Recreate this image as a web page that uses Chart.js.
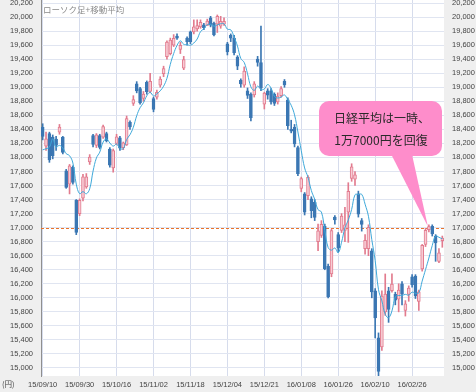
<!DOCTYPE html>
<html>
<head>
<meta charset="utf-8">
<script src="https://cdn.jsdelivr.net/npm/chart.js@4.4.1/dist/chart.umd.min.js"></script>
<style>
  html, body { margin: 0; padding: 0; background: #fff; }
</style>
</head>
<body>
<canvas id="myChart" width="476" height="392"></canvas>
<script>
'use strict';

const dates = [
  '15/09/10','15/09/11','15/09/14','15/09/15','15/09/16','15/09/17','15/09/18','15/09/24','15/09/25','15/09/28',
  '15/09/29','15/09/30','15/10/01','15/10/02','15/10/05','15/10/06','15/10/07','15/10/08','15/10/09','15/10/13',
  '15/10/14','15/10/15','15/10/16','15/10/19','15/10/20','15/10/21','15/10/22','15/10/23','15/10/26','15/10/27',
  '15/10/28','15/10/29','15/10/30','15/11/02','15/11/04','15/11/05','15/11/06','15/11/09','15/11/10','15/11/11',
  '15/11/12','15/11/13','15/11/16','15/11/17','15/11/18','15/11/19','15/11/20','15/11/24','15/11/25','15/11/26',
  '15/11/27','15/11/30','15/12/01','15/12/02','15/12/03','15/12/04','15/12/07','15/12/08','15/12/09','15/12/10',
  '15/12/11','15/12/14','15/12/15','15/12/16','15/12/17','15/12/18','15/12/21','15/12/22','15/12/24','15/12/25',
  '15/12/28','15/12/29','15/12/30','16/01/04','16/01/05','16/01/06','16/01/07','16/01/08','16/01/12','16/01/13',
  '16/01/14','16/01/15','16/01/18','16/01/19','16/01/20','16/01/21','16/01/22','16/01/25','16/01/26','16/01/27',
  '16/01/28','16/01/29','16/02/01','16/02/02','16/02/03','16/02/04','16/02/05','16/02/08','16/02/09','16/02/10',
  '16/02/12','16/02/15','16/02/16','16/02/17','16/02/18','16/02/19','16/02/22','16/02/23','16/02/24','16/02/25',
  '16/02/26','16/02/29','16/03/01','16/03/02','16/03/03','16/03/04','16/03/07','16/03/08','16/03/09','16/03/10'
];

const opens = [
  18430,18160,18340,18290,18260,18360,18290,17810,17620,17860,
  17390,17200,17420,17580,17935,18310,18170,18310,18290,18340,
  18120,17850,18200,18280,18140,18180,18500,18770,19050,18980,
  18840,19070,18940,18840,18860,19030,19195,19435,19480,19600,
  19730,19540,19270,19700,19790,19790,19830,19860,19890,19880,
  19990,19910,19900,19870,19900,19620,19740,19700,19430,19100,
  19030,18950,18900,18890,19400,19350,18760,18950,18950,18900,
  18790,18880,19085,18820,18400,18430,18140,17560,17480,17455,
  17410,17360,16800,16890,17020,16450,16340,17150,16900,16960,
  16960,17220,17700,17690,17480,17100,16700,16700,16670,16100,
  15430,15300,15800,16100,16100,16050,15980,16200,15820,16050,
  16300,16310,15950,16410,16760,16970,17020,16880,16520,16815
];

const highs = [
  18480,18360,18360,18320,18300,18470,18300,17830,17900,17880,
  17400,17410,17760,17770,18040,18330,18340,18330,18460,18360,
  18140,18120,18330,18300,18220,18590,18520,18880,19080,19000,
  18940,19090,19200,18860,18960,19150,19300,19660,19700,19750,
  19760,19640,19440,19720,19800,19960,19960,19960,19910,19970,
  20010,19930,20030,20010,19990,19640,19760,19740,19450,19120,
  19290,18990,18920,19080,19440,19870,18930,18980,18980,18920,
  18920,19010,19110,18850,18530,18470,18160,17720,17500,17740,
  17440,17400,17050,17100,17050,16480,16980,17170,16930,17200,
  17290,17640,17910,17800,17520,17130,16900,17040,16700,16130,
  15500,16100,16340,16150,16340,16080,16200,16230,15960,16170,
  16330,16330,16110,16760,16990,17040,17040,16900,16700,16880
];

const lows = [
  18250,18100,17930,17980,18100,18330,18050,17560,17480,17620,
  16900,17170,17380,17560,17900,18150,18140,18120,18270,18220,
  17860,17790,18180,18100,18110,18170,18400,18740,18920,18760,
  18800,18900,18920,18650,18830,19000,19150,19400,19460,19580,
  19680,19480,19250,19600,19620,19760,19800,19840,19820,19880,
  19860,19730,19780,19840,19880,19460,19650,19460,19250,19000,
  19000,18840,18520,18860,19300,18950,18690,18830,18760,18740,
  18760,18860,19000,18400,18350,18150,17740,17510,17180,17400,
  17140,17100,16670,16860,16400,16000,16300,17050,16650,16930,
  16800,16790,17660,17600,17150,16950,16620,16600,16000,15430,
  14865,15250,15750,15650,16080,15900,15800,15900,15740,15950,
  16150,15990,15820,16380,16730,16940,16880,16520,16500,16720
];

const closes = [
  18300,18264,17966,18026,18172,18432,18070,17572,17881,17645,
  16931,17388,17722,17725,18005,18186,18323,18141,18439,18235,
  17891,18097,18292,18131,18207,18554,18436,18825,18947,18777,
  18903,18936,19083,18683,18927,19116,19266,19643,19671,19698,
  19698,19597,19394,19649,19650,19860,19880,19925,19848,19944,
  19884,19747,20012,19938,19940,19504,19698,19493,19301,19047,
  19230,18883,18566,19050,19354,18987,18916,18887,18790,18769,
  18873,18982,19034,18451,18374,18191,17767,17698,17219,17716,
  17241,17147,16956,17048,16416,16017,16959,17111,16709,17164,
  17041,17518,17865,17751,17191,17045,16820,17004,16085,15713,
  14953,16023,16054,15836,16197,15967,16111,16052,15916,16140,
  16188,16027,16086,16747,16960,17015,16911,16783,16642,16852
];

// 5-day moving average
const ma5 = [
  18108,18124,18146,18265,18146,18172,18133,18054,18025,17920,
  17620,17483,17513,17482,17554,17805,17992,18076,18219,18265,
  18206,18161,18191,18129,18124,18256,18324,18431,18594,18708,
  18778,18878,18929,18876,18906,18949,19015,19127,19325,19479,
  19595,19661,19612,19607,19598,19630,19687,19793,19833,19891,
  19896,19870,19887,19905,19904,19828,19818,19715,19587,19409,
  19354,19191,19005,18955,19017,18968,18975,19039,18987,18870,
  18847,18860,18890,18822,18743,18606,18363,18096,17850,17718,
  17528,17404,17256,17222,16962,16717,16679,16710,16642,16792,
  16997,17109,17259,17468,17473,17474,17334,17162,16829,16533,
  16115,15956,15766,15716,15813,16015,16033,16033,16049,16037,
  16081,16065,16071,16238,16402,16567,16744,16883,16862,16841
];

const yTicks = [
  15000,15200,15400,15600,15800,16000,16200,16400,16600,16800,
  17000,17200,17400,17600,17800,18000,18200,18400,18600,18800,
  19000,19200,19400,19600,19800,20000,20200
];

const refLevel = 17000;
const calloutDate = '16/03/04';
const calloutLines = ['日経平均は一時、', '1万7000円を回復'];
const chartTitle = 'ローソク足+移動平均';
const unitLabel = '(円)';

const upFill = '#f7ccd5';
const upLine = '#e27b8e';
const downFill = '#3b77b3';

function isUp(i) {
  return closes[i] >= opens[i];
}

// floating bars: [low, high] for wicks and [open, close] for bodies
function getWicks() {
  let wicks = [];
  for (let i = 0; i < dates.length; i++) {
    wicks.push([lows[i], highs[i]]);
  }
  return wicks;
}

function getBodies() {
  let bodies = [];
  for (let i = 0; i < dates.length; i++) {
    bodies.push([opens[i], closes[i]]);
  }
  return bodies;
}

const axisFont = { family: 'Liberation Sans, Arial, sans-serif', size: 7.5 };

const backdrop = {
  id: 'backdrop',
  beforeDraw(chart) {
    const { ctx, chartArea: a } = chart;
    ctx.save();
    ctx.fillStyle = '#efefef';
    ctx.fillRect(0, 0, chart.width, chart.height);
    ctx.fillStyle = '#ffffff';
    ctx.fillRect(a.left, a.top, a.right - a.left, a.bottom - a.top);
    ctx.restore();
  }
};

const refLine = {
  id: 'refLine',
  beforeDatasetsDraw(chart) {
    const { ctx, chartArea: a } = chart;
    const y = Math.round(chart.scales.y.getPixelForValue(refLevel)) + 0.5;
    ctx.save();
    ctx.strokeStyle = '#e8732c';
    ctx.lineWidth = 1;
    ctx.setLineDash([3, 2]);
    ctx.beginPath();
    ctx.moveTo(a.left, y);
    ctx.lineTo(a.right, y);
    ctx.stroke();
    ctx.restore();
  }
};

const labels = {
  id: 'labels',
  afterDraw(chart) {
    const { ctx } = chart;
    ctx.save();
    ctx.fillStyle = '#8a8a8a';
    ctx.font = '8.5px "Noto Sans CJK JP", sans-serif';
    ctx.textBaseline = 'middle';
    ctx.fillText(chartTitle, 43, 10);

    ctx.fillStyle = '#444';
    ctx.font = '7.5px "Noto Sans CJK JP", sans-serif';
    ctx.fillText(unitLabel, 2, 384);

    // callout box with its pointer
    const tipX = chart.scales.x.getPixelForValue(dates.indexOf(calloutDate));
    const tipY = chart.scales.y.getPixelForValue(refLevel);
    ctx.fillStyle = '#fe8dcb';
    ctx.beginPath();
    ctx.roundRect(319, 101, 123, 55, 10);
    ctx.fill();
    ctx.beginPath();
    ctx.moveTo(389, 150);
    ctx.lineTo(411, 150);
    ctx.lineTo(tipX - 1, tipY - 1);
    ctx.closePath();
    ctx.fill();

    ctx.fillStyle = '#2a2a2a';
    ctx.font = '12px "Noto Sans CJK JP", sans-serif';
    ctx.textAlign = 'center';
    ctx.fillText(calloutLines[0], 382, 118);
    ctx.fillText(calloutLines[1], 381, 140);
    ctx.restore();
  }
};

new Chart(document.getElementById('myChart'), {
  type: 'bar',
  data: {
    labels: dates,
    datasets: [{
      type: 'line',
      label: '移動平均',
      data: ma5,
      borderColor: '#3fa9da',
      borderWidth: 1,
      pointRadius: 0,
      tension: 0.4,
      order: 0
    }, {
      label: 'body',
      data: getBodies(),
      backgroundColor: dates.map((d, i) => isUp(i) ? upFill : downFill),
      borderColor: dates.map((d, i) => isUp(i) ? upLine : downFill),
      borderWidth: 1,
      borderSkipped: false,
      barThickness: 3,
      grouped: false,
      order: 1
    }, {
      label: 'wick',
      data: getWicks(),
      backgroundColor: dates.map((d, i) => isUp(i) ? upLine : downFill),
      borderWidth: 0,
      barThickness: 1,
      grouped: false,
      order: 2
    }]
  },
  options: {
    responsive: false,
    animation: false,
    devicePixelRatio: 1,
    layout: { padding: 0 },
    plugins: {
      legend: { display: false },
      tooltip: { enabled: false }
    },
    scales: {
      x: {
        offset: true,
        grid: {
          offset: false,
          drawTicks: false,
          color: (c) => (c.index % 11 === 0 ? '#d6dcec' : 'rgba(0,0,0,0)')
        },
        border: { display: false },
        ticks: {
          autoSkip: false,
          maxRotation: 0,
          padding: 4,
          color: '#444',
          font: axisFont,
          callback: (v, i) => (i % 11 === 0 ? dates[i] : '')
        },
        afterFit: (s) => { s.height = 16; s.paddingLeft = 0; s.paddingRight = 0; }
      },
      y: {
        position: 'left',
        min: 14886,
        max: 20243,
        afterBuildTicks: (s) => { s.ticks = yTicks.map(v => ({ value: v })); },
        grid: { color: '#e0e5f1', drawTicks: false },
        border: { color: '#8f8f8f' },
        ticks: {
          padding: 8,
          color: '#444',
          font: axisFont,
          callback: (v) => v.toLocaleString('en-US')
        },
        afterFit: (s) => { s.width = 41; s.paddingTop = 0; s.paddingBottom = 0; }
      },
      y2: {
        position: 'right',
        min: 14886,
        max: 20243,
        afterBuildTicks: (s) => { s.ticks = yTicks.map(v => ({ value: v })); },
        grid: { display: false, drawTicks: false },
        border: { display: false },
        ticks: {
          padding: 8,
          color: '#444',
          font: axisFont,
          callback: (v) => v.toLocaleString('en-US')
        },
        afterFit: (s) => { s.width = 32; s.paddingTop = 0; s.paddingBottom = 0; }
      }
    }
  },
  plugins: [backdrop, refLine, labels]
});
</script>
</body>
</html>
